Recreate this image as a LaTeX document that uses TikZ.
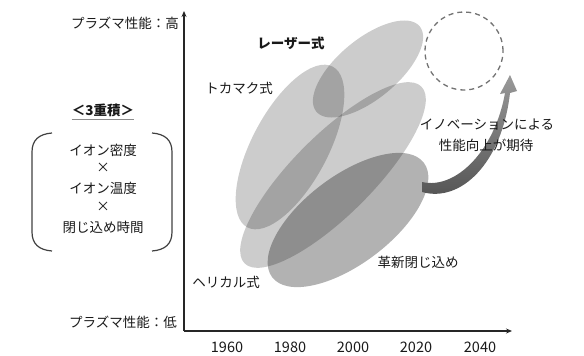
\documentclass[tikz,border=0pt]{standalone}
\usepackage{fontspec}
\setmainfont{Noto Sans CJK JP}
\usetikzlibrary{shapes.geometric,arrows.meta}
\tikzset{
  blob/.style={ellipse, inner sep=0pt, fill=black, fill opacity=0.2, draw=none},
  darkblob/.style={ellipse, inner sep=0pt, fill=black, fill opacity=0.3, draw=none},
  lbl/.style={font=\fontsize{13.5}{15}\selectfont, inner sep=0pt, text=black!90},
  boldlbl/.style={font=\fontsize{13.5}{15}\selectfont\bfseries, inner sep=0pt, text=black!90},
  yearlbl/.style={font=\fontsize{14.5}{16}\selectfont, inner sep=0pt, text=black!90},
  axisline/.style={line width=1.3pt, black!85, -{Stealth[length=6pt,width=5pt]}},
  bracketline/.style={line width=1.2pt, black!75},
}
\begin{document}
\begin{tikzpicture}[x=1pt,y=-1pt]
\useasboundingbox (0,0) rectangle (584,356);

% ellipses
\node[blob, minimum width=182pt, minimum height=76pt, rotate=62] (tokamak) at (290,147) {};
\node[blob, minimum width=134pt, minimum height=60pt, rotate=39.5] (laser) at (368,69) {};
\node[blob, minimum width=250pt, minimum height=80pt, rotate=45] (helical) at (333,175) {};
\node[darkblob, minimum width=190pt, minimum height=88pt, rotate=37] (kakushin) at (348,220) {};

% dashed target circle
\node[circle, draw=black!55, dashed, dash pattern=on 5pt off 4pt, line width=1.3pt, minimum size=78pt, inner sep=0pt] (target) at (464,51) {};

% curved tapered arrow
\coordinate (arrstart) at (422,182);
\coordinate (arrtip) at (510,75);
\shade[top color=black!40, bottom color=black!68]
  (arrstart) .. controls (456,190) and (495,150) .. (505,93)
  -- (500,94) -- (arrtip) -- (517,91) -- (510,93)
  .. controls (502,163) and (461,203) .. (422,192) -- cycle;

% axes
\coordinate (origin) at (184,331);
\coordinate (ytip) at (184,11);
\coordinate (xtip) at (512,331);
\draw[axisline] (origin) -- (ytip);
\draw[axisline] (origin) -- (xtip);

% axis labels
\node[lbl, anchor=east] (high) at (179,23) {プラズマ性能：高};
\node[lbl, anchor=east] (low) at (177,322) {プラズマ性能：低};
\foreach \yr/\xx in {1960/227,1980/290,2000/353,2020/416,2040/480}{
  \node[yearlbl] (y\yr) at (\xx,347) {\yr};
}

% triple product
\node[boldlbl] (triple) at (103,110) {＜3重積＞};
\draw[line width=1pt, black!45] (triple.south west) ++(0,3) coordinate (ul1) -- (triple.south east |- ul1);
\node[lbl] (dens) at (103,150) {イオン密度};
\node[lbl] (x1) at (103,168) {×};
\node[lbl] (temp) at (103,188) {イオン温度};
\node[lbl] (x2) at (103,207) {×};
\node[lbl] (conf) at (103,227) {閉じ込め時間};
\draw[bracketline] (52,133) .. controls (39,134) and (32,140) .. (32,152) -- (32,232) .. controls (32,244) and (39,250) .. (52,251);
\draw[bracketline] (152,133) .. controls (165,134) and (172,140) .. (172,152) -- (172,232) .. controls (172,244) and (165,250) .. (152,251);

% ellipse labels
\node[boldlbl] (laserlbl) at (291,43) {レーザー式};
\node[lbl] (tokamaklbl) at (239,88) {トカマク式};
\node[lbl] (helicallbl) at (226,282) {ヘリカル式};
\node[lbl] (kakushinlbl) at (418,262) {革新閉じ込め};
\node[lbl] (innov1) at (487,125) {イノベーションによる};
\node[lbl] (innov2) at (486,145) {性能向上が期待};
\end{tikzpicture}
\end{document}
